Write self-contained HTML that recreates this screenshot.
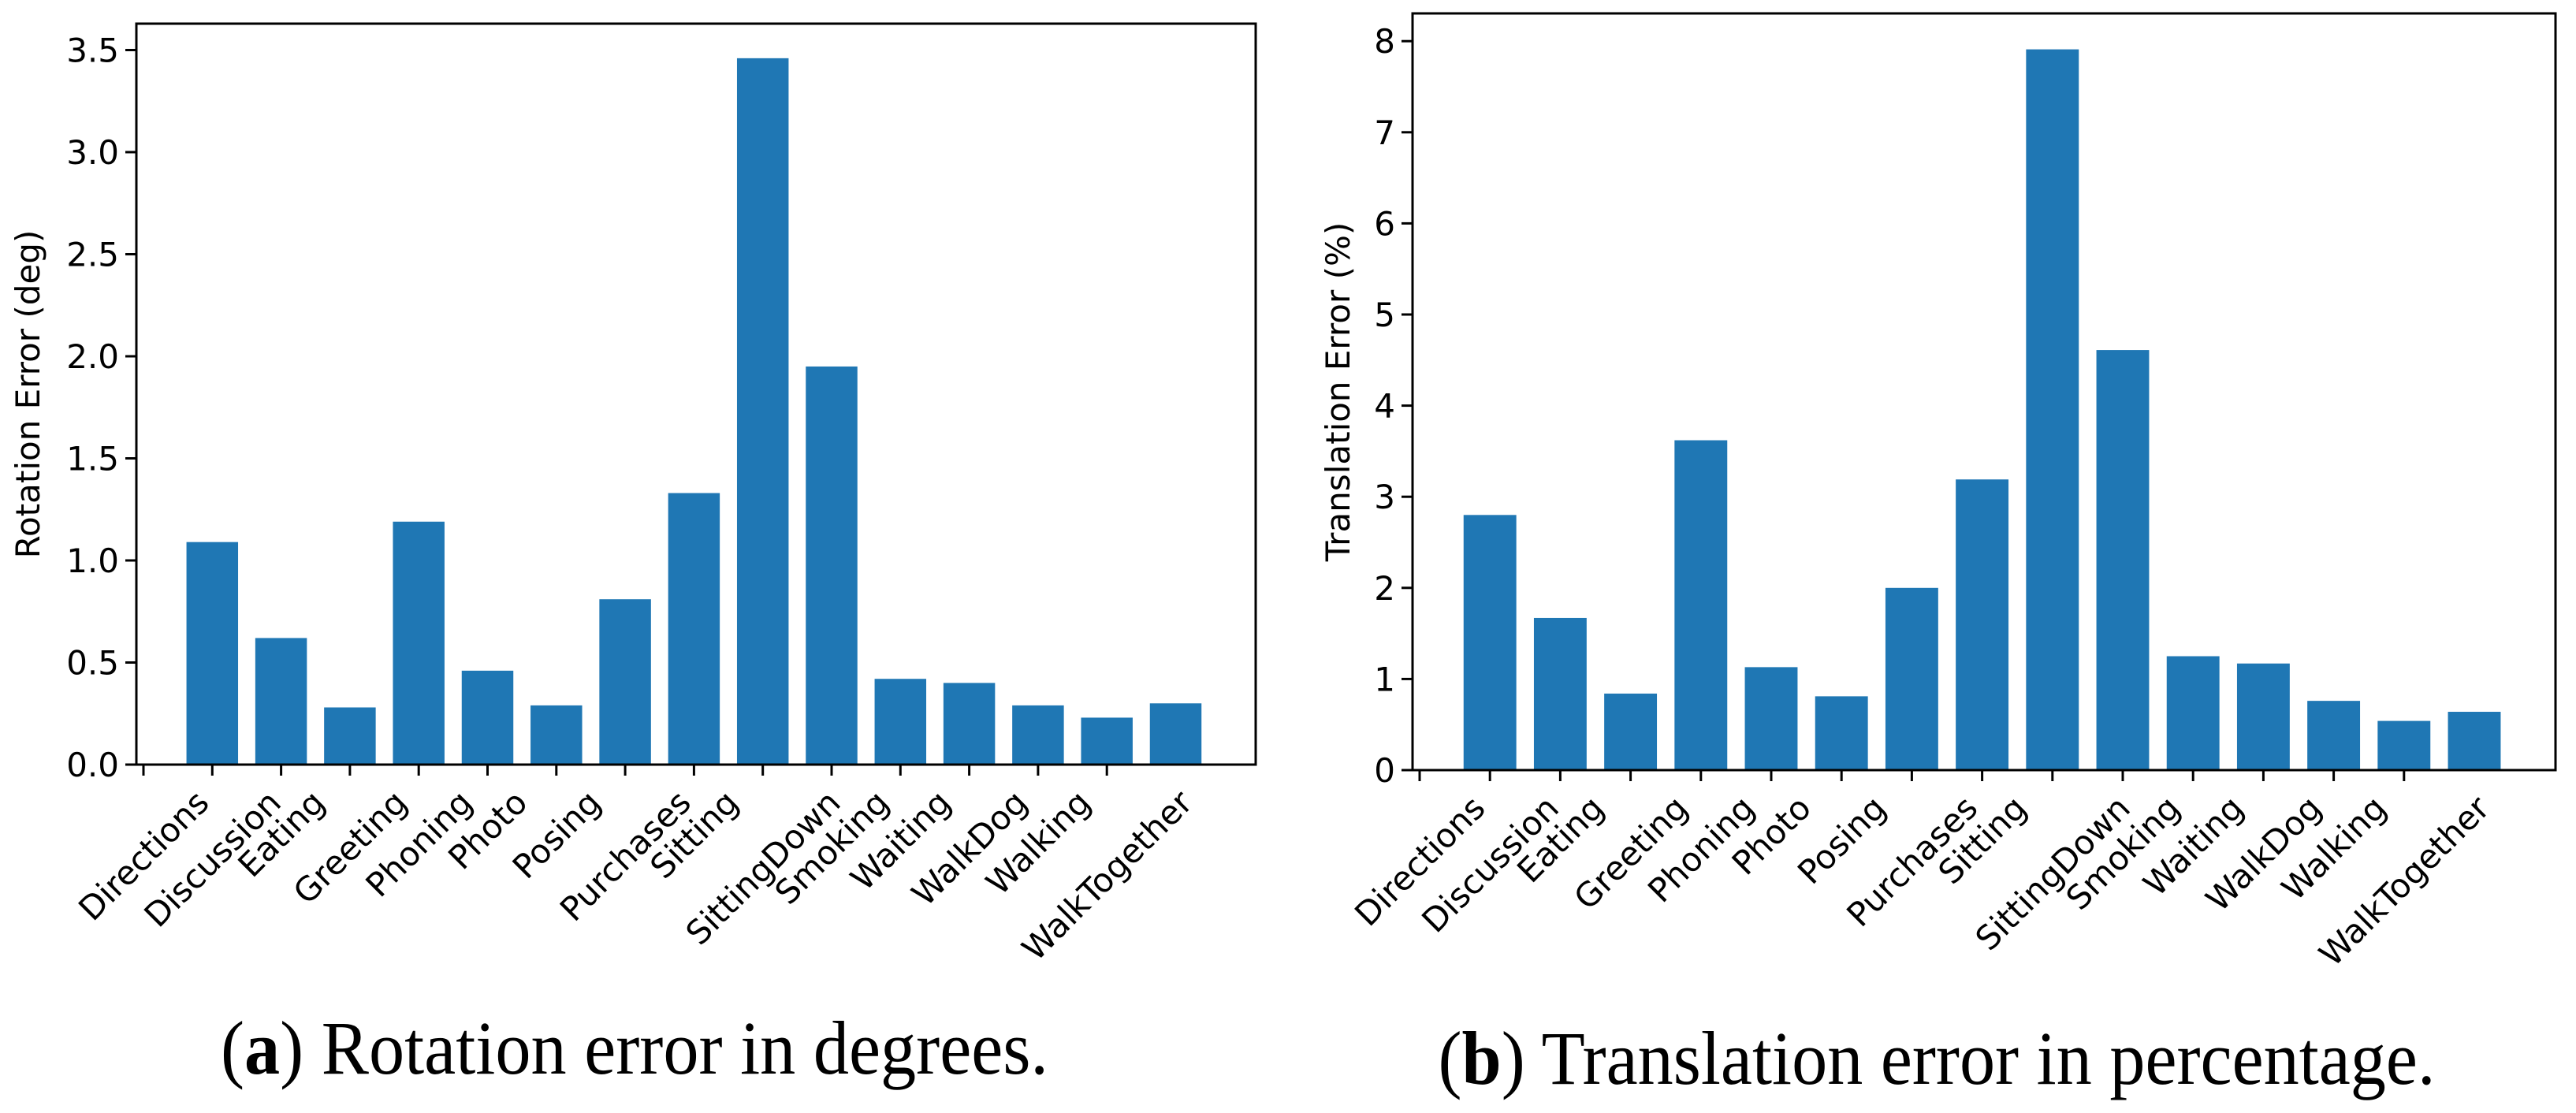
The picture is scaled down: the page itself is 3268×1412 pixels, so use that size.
<!DOCTYPE html>
<html><head><meta charset="utf-8">
<style>
html,body{margin:0;padding:0;background:#fff;}
svg{display:block;}
</style></head>
<body>
<svg id="fig" width="3268" height="1412" viewBox="0 0 3268 1412" xmlns="http://www.w3.org/2000/svg">
<g id="chartA"></g>
<g id="chartB"></g>
<text x="805" y="1362" text-anchor="middle" font-family="Liberation Serif, serif" font-size="96" textLength="1050" lengthAdjust="spacingAndGlyphs">(<tspan font-weight="bold">a</tspan>) Rotation error in degrees.</text>
<text x="2457" y="1375" text-anchor="middle" font-family="Liberation Serif, serif" font-size="96" textLength="1265" lengthAdjust="spacingAndGlyphs">(<tspan font-weight="bold">b</tspan>) Translation error in percentage.</text>
</svg>
<script>
const categories = ["Directions","Discussion","Eating","Greeting","Phoning","Photo","Posing","Purchases","Sitting","SittingDown","Smoking","Waiting","WalkDog","Walking","WalkTogether"];
const rotationValues = [1.09,0.62,0.28,1.19,0.46,0.29,0.81,1.33,3.46,1.95,0.42,0.40,0.29,0.23,0.30];
const translationValues = [2.80,1.67,0.84,3.62,1.13,0.81,2.00,3.19,7.91,4.61,1.25,1.17,0.76,0.54,0.64];
const rotationTicks = ["0.0","0.5","1.0","1.5","2.0","2.5","3.0","3.5"];
const rotationTickValues = [0,0.5,1,1.5,2,2.5,3,3.5];
const translationTicks = ["0","1","2","3","4","5","6","7","8"];
const translationTickValues = [0,1,2,3,4,5,6,7,8];

const NS = "http://www.w3.org/2000/svg";
function mk(tag, attrs, parent){
  const e = document.createElementNS(NS, tag);
  for (const k in attrs) e.setAttribute(k, attrs[k]);
  parent.appendChild(e);
  return e;
}

function drawChart(g, cfg, values, tickLabels, tickValues, ylabelText){
  const {left, right, top, bottom, tick0, step, perUnit, ylabelX} = cfg;
  const xPos = k => tick0 + step * k;
  const yPos = v => bottom - v * perUnit;
  const bw = step * 0.75;
  values.forEach((v, i) => {
    const r = mk("rect", {x: xPos(i+1) - bw/2, y: yPos(v), width: bw, height: bottom - yPos(v), fill: "#1f77b4"}, g);
    
    
  });
  const f = mk("rect", {x: left, y: top, width: right-left, height: bottom-top, fill: "none", stroke: "#000", "stroke-width": 3}, g);
  
  
  tickValues.forEach((tv, j) => {
    const y = yPos(tv);
    const t = mk("line", {x1: left-14, x2: left, y1: y, y2: y, stroke: "#000", "stroke-width": 3}, g);
    
    
    const lb = mk("text", {x: left-22, y: y+15, "text-anchor": "end", "font-family": "DejaVu Sans, sans-serif", "font-size": 42}, g);
    lb.textContent = tickLabels[j];
    
    
  });
  categories.forEach((c, k) => {
    const x = xPos(k);
    const t = mk("line", {x1: x, x2: x, y1: bottom, y2: bottom+14, stroke: "#000", "stroke-width": 3}, g);
    
    
    const lb = mk("text", {x: 0, y: 0, "text-anchor": "middle", "font-family": "DejaVu Sans, sans-serif", "font-size": 42}, g);
    lb.textContent = c;
    
    
    const L = lb.getComputedTextLength();
    const h = 40;
    const half = (L + h) * 0.7071 / 2;
    const cy = bottom + 14 + 12 + half;
    lb.setAttribute("transform", `translate(${x},${cy}) rotate(-45) translate(0,15)`);
  });
  const yl = mk("text", {x: 0, y: 0, "text-anchor": "middle", "font-family": "DejaVu Sans, sans-serif", "font-size": 42,
    transform: `translate(${ylabelX},${(top+bottom)/2}) rotate(-90)`}, g);
  yl.textContent = ylabelText;
  
  
}

drawChart(document.getElementById("chartA"),
  {left:173, right:1593, top:30, bottom:970, tick0:182, step:87.3, perUnit:259, ylabelX:50},
  rotationValues, rotationTicks, rotationTickValues, "Rotation Error (deg)");
drawChart(document.getElementById("chartB"),
  {left:1792, right:3242, top:17, bottom:977, tick0:1801, step:89.2, perUnit:115.6, ylabelX:1712},
  translationValues, translationTicks, translationTickValues, "Translation Error (%)");
</script>
</body></html>
